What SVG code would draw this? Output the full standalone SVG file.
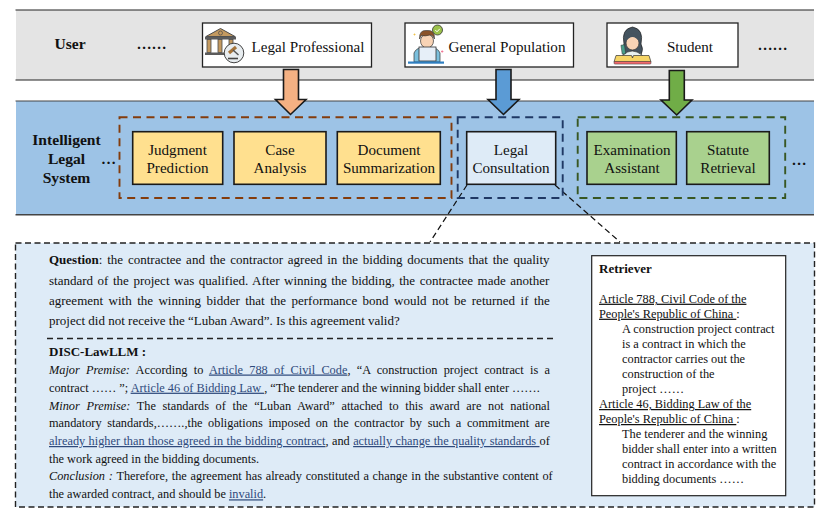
<svg xmlns="http://www.w3.org/2000/svg" width="830" height="517" viewBox="0 0 830 517">
<style>
text{font-family:"Liberation Serif","Times New Roman",serif;fill:#111}
.b{font-weight:bold}
.n{font-size:15.1px;text-anchor:middle}
.l{font-size:15.6px;text-anchor:middle;font-weight:bold}
.box{stroke:#1a1a1a;stroke-width:1.6}
.u{fill:#fff;stroke:#222;stroke-width:1.3}
.d{fill:none;stroke-width:1.9;stroke-dasharray:8 5.500}
.q{font-size:13px}
.t{font-size:12.3px}
.r{font-size:12.35px}
.i{font-style:italic}
.lk{fill:#2f4a7c;text-decoration:underline;text-decoration-skip-ink:none}
.ru{text-decoration:underline;text-decoration-skip-ink:none}
.ar{stroke:#1a1a1a;stroke-width:1.6}
.dc{fill:none;stroke:#111;stroke-width:1.200;stroke-dasharray:6 3.500}
</style>
<rect x="16" y="10" width="798" height="70" fill="#e4e4e4"/>
<path d="M15.500 10H814M15.500 80H814" stroke="#222" stroke-width="1.200" fill="none"/>
<rect x="16" y="101" width="798" height="114" fill="#9dc3e6"/>
<path d="M15.500 101H814" stroke="#444" stroke-width="1"/><path d="M15.500 214.800H814" stroke="#444" stroke-width="1.400"/>
<text class="l" x="70" y="48.500">User</text>
<text class="n" x="151.500" y="49" font-weight="bold">……</text>
<text class="n" x="772.500" y="50" font-weight="bold">……</text>
<g id="legal-professional"><rect class="u" x="202.500" y="23" width="169" height="44"/>
<path d="M206 36.500L220.500 28.500L235 36.500Z" fill="#c49a60" stroke="#4a4a4a"/><circle cx="220.500" cy="33" r="2" fill="#c49a60" stroke="#4a4a4a" stroke-width=".7"/><rect x="205" y="36.500" width="31" height="3" fill="#5b5b5b"/><rect x="207" y="39.500" width="4" height="13" fill="#c49a60" stroke="#4a4a4a" stroke-width=".8"/><rect x="218" y="39.500" width="4" height="13" fill="#c49a60" stroke="#4a4a4a" stroke-width=".8"/><rect x="229" y="39.500" width="4" height="9" fill="#c49a60" stroke="#4a4a4a" stroke-width=".8"/><rect x="205" y="52.500" width="20" height="2.500" fill="#5b5b5b"/>
<circle cx="234" cy="53" r="9.800" fill="#e8edf0" stroke="#444"/><path d="M229 53L236 47" stroke="#a5743a" stroke-width="3.200"/><path d="M233 50L238.500 55" stroke="#555" stroke-width="1.500"/><path d="M228 58.500H238" stroke="#444" stroke-width="1.600"/>
<text class="n" x="308" y="51.800">Legal Professional</text></g>
<g id="general-population"><rect class="u" x="405" y="23" width="168.500" height="44"/>
<path d="M414 62V53Q416 47 427 47Q438 47 440 53V62Z" fill="#7cc0dd" stroke="#333" stroke-width=".7"/><rect x="424" y="46" width="6" height="4" fill="#f6c9a4"/><ellipse cx="427" cy="41" rx="6.500" ry="7" fill="#f8d3b5" stroke="#333" stroke-width=".7"/><path d="M419.500 39Q419 29.500 427 30.500Q435 29.500 434.500 39Q433 35 430 35Q425 36.500 421 35.500Q420.500 37 419.500 39Z" fill="#8a5228" stroke="#333" stroke-width=".6"/><rect x="419" y="47" width="17" height="14" fill="#e6eff8" stroke="#333" stroke-width=".8"/><rect x="408" y="61.500" width="36" height="2.200" fill="#2f7fc1"/><circle cx="437.500" cy="30" r="5" fill="#9cc24a" stroke="#333" stroke-width=".8"/><path d="M435.300 30L437 31.800L439.800 28.800" fill="none" stroke="#fff" stroke-width="1"/><path d="M413.500 34.500h2M414.500 33.500v2" stroke="#f0c040" stroke-width=".8"/><path d="M441 51.500h2.400M442.200 50.300v2.400" stroke="#f06a8a" stroke-width=".8"/>
<text class="n" x="507" y="51.800">General Population</text></g>
<g id="student"><rect class="u" x="607" y="23" width="131" height="44"/>
<path d="M624 44Q621 29 632.500 27Q644 29 641 44Q644 49 641 55H624Q621 49 624 44Z" fill="#44535f" stroke="#222" stroke-width=".7"/><path d="M623 55Q632 47 642 55L643 57H622Z" fill="#e8f2f2" stroke="#333" stroke-width=".7"/><rect x="621.500" y="45" width="3.500" height="9" fill="#48a08c" stroke="#333" stroke-width=".5" transform="rotate(-8 623 49)"/><ellipse cx="632.500" cy="43" rx="6.500" ry="7" fill="#f8d3b5" stroke="#333" stroke-width=".7"/><path d="M625.500 42Q627 32 632.500 34Q638 32 639.500 42Q636 37 632.500 37Q629 37 625.500 42Z" fill="#44535f"/>
<path d="M616 55.500H631.500L632.500 58L633.500 55.500H649L651 62H614Z" fill="#f6d566" stroke="#333" stroke-width=".7"/><rect x="614" y="61.500" width="37" height="2.600" rx="1" fill="#f06a6f" stroke="#333" stroke-width=".5"/>
<text class="n" x="690" y="51.800">Student</text></g>
<g id="connectors">
<path class="ar" d="M283.500 69.500V99.500H275.500L290.500 114.500L306 99.500H298.500V69.500Z" fill="#f4b183"/>
<path class="ar" d="M496 69.500V99.500H488L503.500 114.500L519 99.500H511V69.500Z" fill="#5b9bd5"/>
<path class="ar" d="M669.300 70.500V100H661L676.700 115L692 100H684.300V70.500Z" fill="#70ad47"/>
<path class="dc" d="M467 185L430 242M555 185L620 242"/>
</g>
<rect class="d" x="119.500" y="117.300" width="332" height="80.700" stroke="#843c0c"/>
<rect class="d" x="457.700" y="117.300" width="105" height="80.700" stroke="#1f3864"/>
<rect class="d" x="577.700" y="117.300" width="207.500" height="80.700" stroke="#385723"/>
<text class="l" x="66.500" y="144.500">Intelligent</text><text class="l" x="66.500" y="163.500">Legal</text><text class="l" x="66.500" y="182.500">System</text>
<text class="n" x="108.500" y="163.500" font-weight="bold">…</text><text class="n" x="799" y="165" font-weight="bold">…</text>
<g id="judgment-prediction"><rect class="box" x="132.700" y="131.700" width="90" height="52.600" fill="#ffe08f"/><text class="n" x="177.500" y="155">Judgment</text><text class="n" x="177.500" y="172.700">Prediction</text></g>
<g id="case-analysis"><rect class="box" x="234" y="131.700" width="92" height="52.600" fill="#ffe08f"/><text class="n" x="280" y="155">Case</text><text class="n" x="280" y="172.700">Analysis</text></g>
<g id="document-summarization"><rect class="box" x="337.300" y="131.700" width="103" height="52.600" fill="#ffe08f"/><text class="n" x="389" y="155">Document</text><text class="n" x="389" y="172.700">Summarization</text></g>
<g id="legal-consultation"><rect class="box" x="466.700" y="131.700" width="89" height="52.600" fill="#deebf7"/><text class="n" x="511" y="155">Legal</text><text class="n" x="511" y="172.700">Consultation</text></g>
<g id="examination-assistant"><rect class="box" x="587" y="131.700" width="89.300" height="52.600" fill="#a9d18e"/><text class="n" x="632" y="155">Examination</text><text class="n" x="632" y="172.700">Assistant</text></g>
<g id="statute-retrieval"><rect class="box" x="686.700" y="131.700" width="82.600" height="52.600" fill="#a9d18e"/><text class="n" x="728" y="155">Statute</text><text class="n" x="728" y="172.700">Retrieval</text></g>
<g id="detail-panel">
<rect x="15.500" y="243" width="799" height="264" fill="#deebf7" stroke="#222" stroke-width="1.400" stroke-dasharray="6 3.500"/>
<text class="q" x="49" y="264" word-spacing="1.54"><tspan class="b">Question</tspan>: the contractee and the contractor agreed in the bidding documents that the quality</text>
<text class="q" x="49" y="285" word-spacing="1.3">standard of the project was qualified. After winning the bidding, the contractee made another</text>
<text class="q" x="49" y="305" word-spacing="2.2">agreement with the winning bidder that the performance bond would not be returned if the</text>
<text class="q" x="49" y="325">project did not receive the “Luban Award”. Is this agreement valid?</text>
<path d="M47 338.500H553" stroke="#222" stroke-width="1.300" stroke-dasharray="6 4"/>
<text class="q b" x="49" y="356">DISC-LawLLM :</text>
<text class="t" x="49" y="373.500" word-spacing="3.2"><tspan class="i">Major Premise:</tspan> According to <tspan class="lk">Article 788 of Civil Code</tspan>, “A construction project contract is a</text>
<text class="t" x="49" y="391.700">contract …… ”; <tspan class="lk">Article 46 of Bidding Law </tspan>, “The tenderer and the winning bidder shall enter …….</text>
<text class="t" x="49" y="409.500" word-spacing="3.57"><tspan class="i">Minor Premise:</tspan> The standards of the “Luban Award” attached to this award are not national</text>
<text class="t" x="49" y="427.300" word-spacing="2.55">mandatory standards,…….,the obligations imposed on the contractor by such a commitment are</text>
<text class="t" x="49" y="445" word-spacing="0.33"><tspan class="lk">already higher than those agreed in the bidding contract</tspan>, and <tspan class="lk">actually change the quality standards </tspan>of</text>
<text class="t" x="49" y="462.700">the work agreed in the bidding documents.</text>
<text class="t" x="49" y="480" word-spacing="0.7"><tspan class="i">Conclusion :</tspan> Therefore, the agreement has already constituted a change in the substantive content of</text>
<text class="t" x="49" y="498.300">the awarded contract, and should be <tspan class="lk">invalid</tspan>.</text>
</g>
<g id="retriever"><rect x="591.700" y="255.700" width="194" height="240" fill="#fff" stroke="#222" stroke-width="1.200"/>
<text class="r b" x="599" y="273" style="font-size:13px">Retriever</text>
<text class="r" x="599" y="302.700"><tspan class="ru">Article 788, Civil Code of the</tspan></text>
<text class="r" x="599" y="317.700"><tspan class="ru">People's Republic of China </tspan>:</text>
<text class="r" x="622" y="333">A construction project contract</text>
<text class="r" x="622" y="348">is a contract in which the</text>
<text class="r" x="622" y="363">contractor carries out the</text>
<text class="r" x="622" y="378">construction of the</text>
<text class="r" x="622" y="393">project ……</text>
<text class="r" x="599" y="408"><tspan class="ru">Article 46, Bidding Law of the</tspan></text>
<text class="r" x="599" y="423"><tspan class="ru">People's Republic of China </tspan>:</text>
<text class="r" x="622" y="438">The tenderer and the winning</text>
<text class="r" x="622" y="453">bidder shall enter into a written</text>
<text class="r" x="622" y="468">contract in accordance with the</text>
<text class="r" x="622" y="482.500">bidding documents ……</text>
</g>
</svg>
